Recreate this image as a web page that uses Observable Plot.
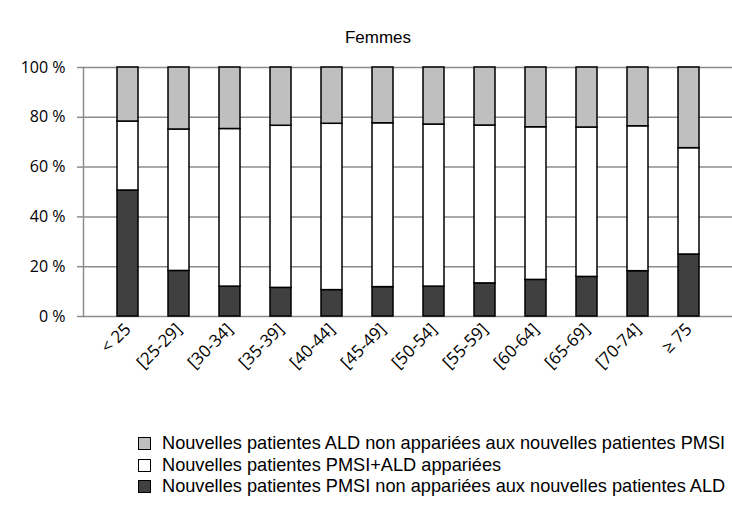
<!DOCTYPE html>
<html>
<head>
<meta charset="utf-8">
<script src="https://cdn.jsdelivr.net/npm/d3@7"></script>
<script src="https://cdn.jsdelivr.net/npm/@observablehq/plot@0.6"></script>
<style>
  body { margin: 0; background: #fff; }
  #wrap { position: relative; width: 732px; height: 508px; overflow: hidden; }
  #chart { position: absolute; left: 0; top: 0; }
  #title { position: absolute; left: 0; width: 756px; top: 28px; text-align: center;
           font-family: "Liberation Sans", Arial, sans-serif; font-size: 17px; color: #000; }
  #legend { position: absolute; left: 138px; top: 433px;
            font-family: "Liberation Sans", Arial, sans-serif; font-size: 18.2px; color: #000; }
  .row { display: flex; align-items: center; height: 21.5px; white-space: nowrap; }
  .sw { width: 11px; height: 11px; border: 1px solid #000; margin-right: 11px; box-sizing: content-box; }
</style>
</head>
<body>
<div id="wrap">
  <div id="chart"></div>
  <div id="title">Femmes</div>
  <div id="legend"></div>
</div>
<script>
const categories = ["< 25", "[25-29]", "[30-34]", "[35-39]", "[40-44]", "[45-49]", "[50-54]", "[55-59]", "[60-64]", "[65-69]", "[70-74]", "≥ 75"];
const seriesNames = [
  "Nouvelles patientes PMSI non appariées aux nouvelles patientes ALD",
  "Nouvelles patientes PMSI+ALD appariées",
  "Nouvelles patientes ALD non appariées aux nouvelles patientes PMSI"
];
const seriesColors = ["#404040", "#ffffff", "#bfbfbf"];
const pmsiOnly = [50.6, 18.3, 12.0, 11.5, 10.6, 11.8, 12.0, 13.3, 14.7, 15.9, 18.2, 24.9];
const matched  = [27.7, 56.8, 63.3, 65.1, 66.8, 65.8, 65.1, 63.4, 61.3, 60.0, 58.2, 42.7];
const aldOnly  = [21.7, 24.9, 24.7, 23.4, 22.6, 22.4, 22.9, 23.3, 24.0, 24.1, 23.6, 32.4];
const yTicks = [0, 20, 40, 60, 80, 100];

const seriesValues = [pmsiOnly, matched, aldOnly];
const data = [];
seriesNames.forEach((s, si) => categories.forEach((c, ci) => data.push({cat: c, series: s, value: seriesValues[si][ci]})));

const grid = "#8c8c8c";
const plot = Plot.plot({
  width: 732,
  height: 400,
  marginTop: 67,
  marginBottom: 84,
  marginLeft: 83,
  marginRight: 0,
  style: {fontFamily: "'Open Sans', sans-serif", color: "#000", background: "transparent"},
  x: {domain: categories, padding: 0.59, label: null},
  y: {domain: [0, 100], label: null},
  color: {domain: seriesNames, range: seriesColors},
  marks: [
    Plot.gridY(yTicks, {stroke: grid, strokeOpacity: 1, strokeWidth: 1.5}),
    Plot.axisY(yTicks, {tickFormat: d => d + " %", tickSize: 6, stroke: grid, strokeWidth: 1.5, tickPadding: 12, fill: "#000", fontSize: 16}),
    Plot.frame({anchor: "left", stroke: grid, strokeWidth: 1.5}),
    Plot.barY(data, {x: "cat", y: "value", fill: "series", order: seriesNames, stroke: "#000", strokeWidth: 1.5}),
    Plot.axisX({tickSize: 0, tickRotate: -45, tickPadding: 10, textAnchor: "end", fill: "#000", fontSize: 17})
  ]
});
document.getElementById("chart").appendChild(plot);

const legend = document.getElementById("legend");
[2, 1, 0].forEach(i => {
  const row = document.createElement("div");
  row.className = "row";
  const sw = document.createElement("div");
  sw.className = "sw";
  sw.style.background = seriesColors[i];
  const t = document.createElement("span");
  t.textContent = seriesNames[i];
  row.appendChild(sw); row.appendChild(t);
  legend.appendChild(row);
});
</script>
</body>
</html>
